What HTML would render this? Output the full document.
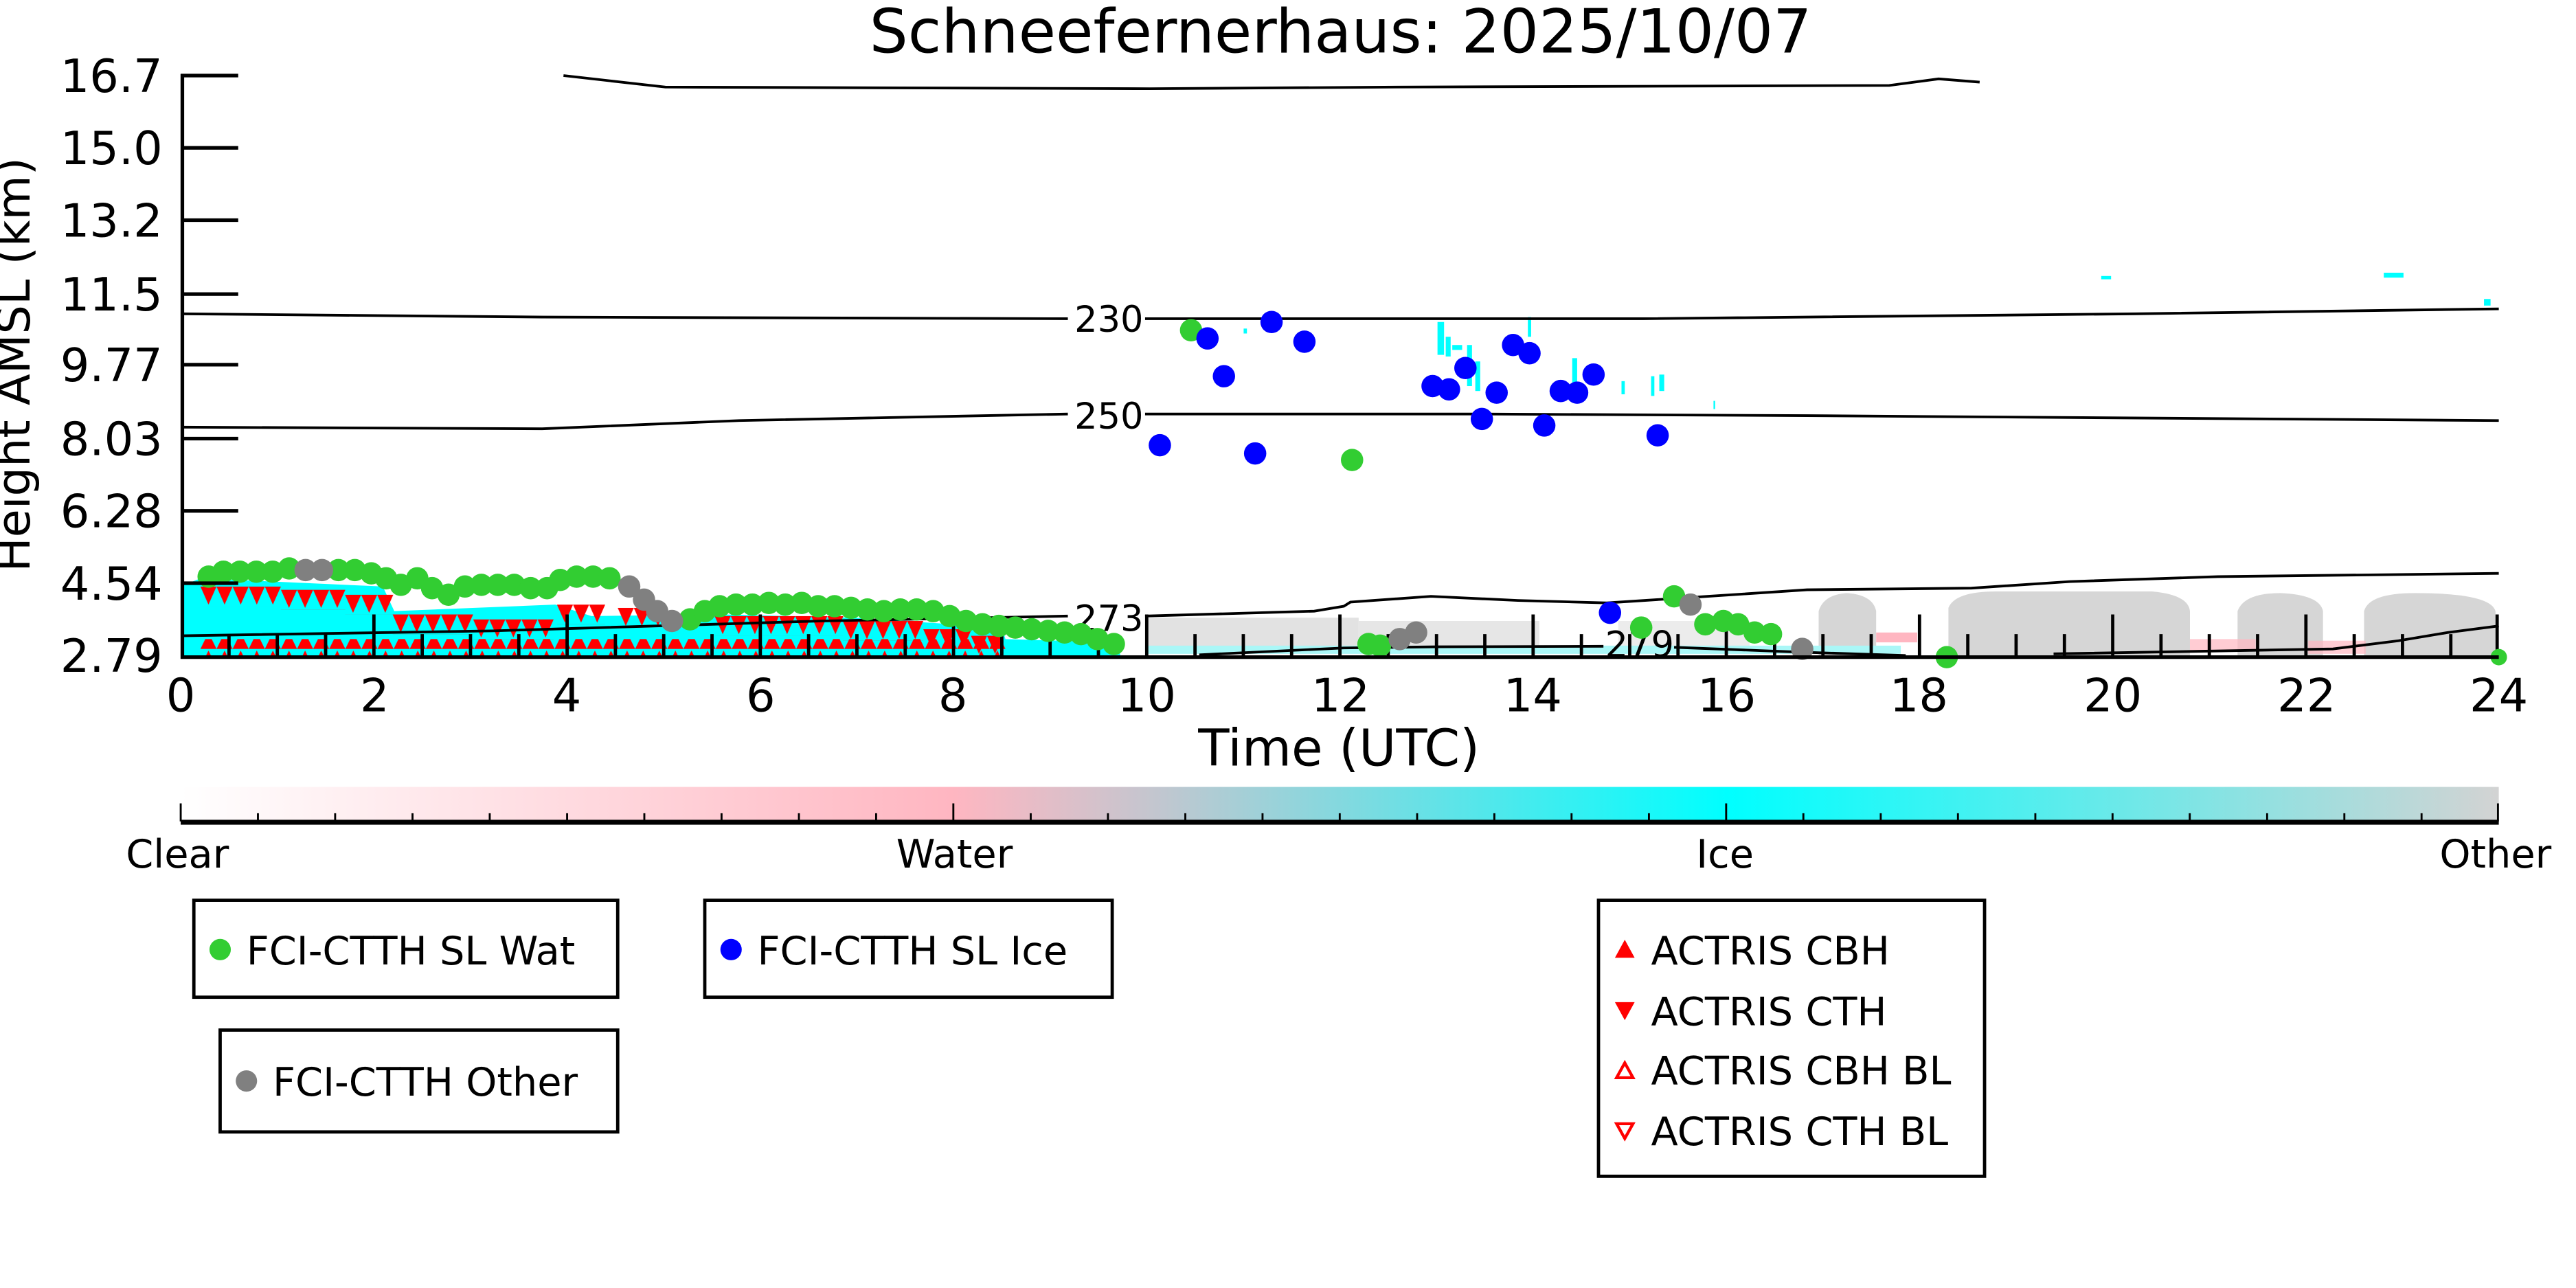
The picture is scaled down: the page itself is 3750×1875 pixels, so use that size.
<!DOCTYPE html>
<html><head><meta charset="utf-8"><style>
html,body{margin:0;padding:0;background:#fff;}
svg{display:block;}
text{font-family:"DejaVu Sans","Liberation Sans",sans-serif;fill:#000;}
</style></head><body>
<svg width="3750" height="1875" viewBox="0 0 1568 784" preserveAspectRatio="none" xmlns="http://www.w3.org/2000/svg">
<defs>
<pattern id="up" patternUnits="userSpaceOnUse" x="122" y="0" width="9.8" height="11">
<polygon points="0,10 4.9,0 9.8,10" fill="#ff0000"/>
</pattern>
<pattern id="dn" patternUnits="userSpaceOnUse" x="0" y="0" width="9.8" height="12">
<polygon points="0,0 9.8,0 4.9,11" fill="#ff0000"/>
</pattern>
<linearGradient id="cb" x1="0" x2="1" y1="0" y2="0">
<stop offset="0" stop-color="#ffffff"/>
<stop offset="0.333" stop-color="#ffb6c1"/>
<stop offset="0.42" stop-color="#c3c6cf"/>
<stop offset="0.667" stop-color="#00ffff"/>
<stop offset="1" stop-color="#d3d3d3"/>
</linearGradient>
</defs>

<text x="816" y="32" font-size="37" text-anchor="middle">Schneefernerhaus: 2025/10/07</text>

<g fill="#d6d6d6">
<rect x="697" y="376" width="130" height="20" fill="#e2e2e2"/>
<rect x="827" y="378" width="110" height="18" fill="#e6e6e6"/>
<rect x="985" y="378" width="80" height="18" fill="#ececec"/>
<path d="M1107,399 L1107,372 Q1110,362 1124,361 Q1140,362 1142,372 L1142,399Z"/>
<path d="M1186,399 L1186,370 Q1190,360 1215,360 L1310,360 Q1332,362 1333,372 L1333,399Z"/>
<path d="M1362,399 L1362,372 Q1366,361 1388,361 Q1412,362 1414,372 L1414,399Z"/>
<path d="M1439,399 L1439,372 Q1442,361 1470,361 Q1516,361 1519,372 L1519,399Z"/>
</g>
<g fill="#ffb6c1">
<rect x="1142" y="385" width="25" height="6"/>
<rect x="1333" y="389" width="40" height="7" opacity="0.7"/>
<rect x="1405" y="390" width="35" height="8" opacity="0.7"/>
</g>
<rect x="697" y="393" width="460" height="5" fill="#aaf7f7"/>
<g fill="#00ffff">
<rect x="1279" y="168" width="6" height="2"/>
<rect x="1451" y="166" width="12" height="3"/>
<rect x="1512" y="182" width="4" height="4"/>
<rect x="875" y="196" width="4" height="20"/>
<rect x="880" y="205" width="3" height="12"/>
<rect x="884" y="210" width="6" height="3"/>
<rect x="893" y="210" width="3" height="25"/>
<rect x="898" y="220" width="3" height="18"/>
<rect x="930" y="193" width="2" height="12"/>
<rect x="957" y="218" width="3" height="18"/>
<rect x="1005" y="229" width="2" height="12"/>
<rect x="1010" y="228" width="3" height="10"/>
<rect x="987" y="232" width="2" height="8"/>
<rect x="757" y="200" width="2" height="3"/>
<rect x="1043" y="244" width="1" height="5"/>
</g>

<polygon fill="#00ffff" points="110,357 122,352 233,357 240,372 338,368 360,375 440,374 520,376 610,382 612,389 680,391 682,399 110,399"/>

<rect x="122" y="389" width="490" height="10" fill="url(#up)"/>
<g transform="translate(122,357)"><rect x="0" y="0" width="49" height="12" fill="url(#dn)"/></g>
<g transform="translate(171,359)"><rect x="0" y="0" width="39.2" height="12" fill="url(#dn)"/></g>
<g transform="translate(210,362)"><rect x="0" y="0" width="29.4" height="12" fill="url(#dn)"/></g>
<g transform="translate(239,374)"><rect x="0" y="0" width="49" height="12" fill="url(#dn)"/></g>
<g transform="translate(288,377)"><rect x="0" y="0" width="49" height="12" fill="url(#dn)"/></g>
<g transform="translate(339,368)"><rect x="0" y="0" width="29.4" height="12" fill="url(#dn)"/></g>
<g transform="translate(376,370)"><rect x="0" y="0" width="29.4" height="12" fill="url(#dn)"/></g>
<g transform="translate(435,375)"><rect x="0" y="0" width="78.4" height="12" fill="url(#dn)"/></g>
<g transform="translate(513,378)"><rect x="0" y="0" width="49" height="12" fill="url(#dn)"/></g>
<g transform="translate(562,383)"><rect x="0" y="0" width="29.4" height="12" fill="url(#dn)"/></g>
<g transform="translate(591,387)"><rect x="0" y="0" width="19.6" height="12" fill="url(#dn)"/></g>

<g fill="none" stroke="#000" stroke-width="1.6">
<path d="M343,46 L405,53 L700,54 L850,53 L1150,52 L1180,48 L1205,50"/>
<path d="M110,191 L330,193 L650,194"/>
<path d="M697,194 L1000,194 L1300,191 L1521,188"/>
<path d="M110,260 L330,261 L450,256 L650,252"/>
<path d="M697,252 L900,252 L1100,253 L1521,256"/>
<path d="M110,387 L300,384 L500,378 L650,375"/>
<path d="M697,375 L800,372 L818,369 L822,366.5 L871,363 L924,365.5 L978,367 L1024,364 L1100,359 L1200,358 L1260,354 L1350,351 L1521,349"/>
<path d="M730,398.6 L818,394.4 L875,393.7 L976,393.4"/>
<path d="M1019,394 L1097,397 L1160,399"/>
<path d="M1250,398 L1420,395 L1460,390 L1490,385 L1521,381"/>
</g>
<text x="675" y="202" font-size="22" text-anchor="middle">230</text>
<text x="675" y="261" font-size="22" text-anchor="middle">250</text>
<text x="675" y="384" font-size="22" text-anchor="middle">273</text>
<text x="998" y="400" font-size="22" text-anchor="middle">279</text>

<g stroke="#000" stroke-width="2">
<path d="M139.4,399V386 M168.8,399V386 M198.2,399V386 M257,399V386 M286.4,399V386 M315.8,399V386 M374.6,399V386 M404,399V386 M433.4,399V386 M492.2,399V386 M521.6,399V386 M551,399V386 M609.8,399V386 M639.2,399V386 M668.6,399V386 M727.4,399V386 M756.8,399V386 M786.2,399V386 M845,399V386 M874.4,399V386 M903.8,399V386 M962.6,399V386 M992,399V386 M1021.4,399V386 M1080.2,399V386 M1109.6,399V386 M1139,399V386 M1197.8,399V386 M1227.2,399V386 M1256.6,399V386 M1315.4,399V386 M1344.8,399V386 M1374.2,399V386 M1433,399V386 M1462.4,399V386 M1491.8,399V386"/>
<path d="M227.6,399V374 M345.2,399V374 M462.8,399V374 M580.4,399V374 M698,399V374 M815.6,399V374 M933.2,399V374 M1050.8,399V374 M1168.4,399V374 M1286,399V374 M1403.6,399V374 M1520,399V374"/>
</g>

<g fill="#32cd32">
<circle cx="127" cy="351" r="6.8"/><circle cx="136" cy="348" r="6.8"/><circle cx="146" cy="348" r="6.8"/><circle cx="156" cy="348" r="6.8"/><circle cx="166" cy="348" r="6.8"/><circle cx="176" cy="346" r="6.8"/>
<circle cx="206" cy="347" r="6.8"/><circle cx="216" cy="347" r="6.8"/><circle cx="226" cy="349" r="6.8"/><circle cx="235" cy="352" r="6.8"/><circle cx="244" cy="356" r="6.8"/><circle cx="254" cy="352" r="6.8"/><circle cx="263" cy="358" r="6.8"/><circle cx="273" cy="362" r="6.8"/>
<circle cx="283" cy="357" r="6.8"/><circle cx="293" cy="356" r="6.8"/><circle cx="303" cy="356" r="6.8"/><circle cx="313" cy="356" r="6.8"/><circle cx="323" cy="358" r="6.8"/><circle cx="333" cy="358" r="6.8"/>
<circle cx="341" cy="353" r="6.8"/><circle cx="351" cy="351" r="6.8"/><circle cx="361" cy="351" r="6.8"/><circle cx="371" cy="352" r="6.8"/>
<circle cx="420" cy="377" r="6.8"/><circle cx="429" cy="372" r="6.8"/><circle cx="438" cy="369" r="6.8"/><circle cx="448" cy="368" r="6.8"/><circle cx="458" cy="368" r="6.8"/><circle cx="468" cy="367" r="6.8"/><circle cx="478" cy="368" r="6.8"/><circle cx="488" cy="367" r="6.8"/><circle cx="498" cy="369" r="6.8"/><circle cx="508" cy="369" r="6.8"/><circle cx="518" cy="370" r="6.8"/><circle cx="528" cy="371" r="6.8"/><circle cx="538" cy="372" r="6.8"/><circle cx="548" cy="371" r="6.8"/><circle cx="558" cy="371" r="6.8"/><circle cx="568" cy="372" r="6.8"/>
<circle cx="578" cy="375" r="6.8"/><circle cx="588" cy="378" r="6.8"/><circle cx="598" cy="380" r="6.8"/><circle cx="608" cy="381" r="6.8"/><circle cx="618" cy="382" r="6.8"/><circle cx="628" cy="383" r="6.8"/><circle cx="638" cy="384" r="6.8"/><circle cx="648" cy="385" r="6.8"/><circle cx="658" cy="386" r="6.8"/><circle cx="668" cy="389" r="6.8"/><circle cx="678" cy="392" r="6.8"/>
<circle cx="725" cy="201" r="6.8"/><circle cx="823" cy="280" r="6.8"/>
<circle cx="833" cy="392" r="6.8"/><circle cx="840" cy="393" r="6.8"/>
<circle cx="999" cy="382" r="6.8"/><circle cx="1019" cy="363" r="6.8"/><circle cx="1038" cy="380" r="6.8"/><circle cx="1049" cy="378" r="6.8"/><circle cx="1058" cy="380" r="6.8"/><circle cx="1068" cy="385" r="6.8"/><circle cx="1078" cy="386" r="6.8"/><circle cx="1185" cy="400" r="6.8"/><circle cx="1521" cy="400" r="5"/>
</g>
<g fill="#808080">
<circle cx="186" cy="347" r="6.8"/><circle cx="196" cy="347" r="6.8"/>
<circle cx="383" cy="357" r="6.8"/><circle cx="392" cy="365" r="6.8"/><circle cx="400" cy="372" r="6.8"/><circle cx="409" cy="378" r="6.8"/>
<circle cx="852" cy="389" r="6.8"/><circle cx="862" cy="385" r="6.8"/><circle cx="1029" cy="368" r="6.8"/><circle cx="1097" cy="395" r="6.8"/>
</g>
<g fill="#0000ff">
<circle cx="706" cy="271" r="6.8"/><circle cx="735" cy="206" r="6.8"/><circle cx="774" cy="196" r="6.8"/><circle cx="794" cy="208" r="6.8"/><circle cx="745" cy="229" r="6.8"/><circle cx="764" cy="276" r="6.8"/>
<circle cx="872" cy="235" r="6.8"/><circle cx="882" cy="237" r="6.8"/><circle cx="892" cy="224" r="6.8"/><circle cx="902" cy="255" r="6.8"/><circle cx="911" cy="239" r="6.8"/><circle cx="921" cy="210" r="6.8"/><circle cx="931" cy="215" r="6.8"/><circle cx="940" cy="259" r="6.8"/><circle cx="950" cy="238" r="6.8"/><circle cx="960" cy="239" r="6.8"/><circle cx="970" cy="228" r="6.8"/><circle cx="1009" cy="265" r="6.8"/><circle cx="980" cy="373" r="6.8"/>
</g>

<g stroke="#000" stroke-width="2.2" fill="none">
<path d="M111,45V400H1521"/>
<path d="M110,46H145 M110,90H145 M110,134H145 M110,179H145 M110,222H145 M110,267H145 M110,311H145 M110,355H145"/>
</g>
<g font-size="28" text-anchor="end">
<text x="99" y="56">16.7</text><text x="99" y="100">15.0</text><text x="99" y="144">13.2</text><text x="99" y="189">11.5</text><text x="99" y="232">9.77</text><text x="99" y="277">8.03</text><text x="99" y="321">6.28</text><text x="99" y="365">4.54</text><text x="99" y="409">2.79</text>
</g>
<g font-size="28" text-anchor="middle">
<text x="110" y="433">0</text><text x="228" y="433">2</text><text x="345" y="433">4</text><text x="463" y="433">6</text><text x="580" y="433">8</text><text x="698" y="433">10</text><text x="816" y="433">12</text><text x="933" y="433">14</text><text x="1051" y="433">16</text><text x="1168" y="433">18</text><text x="1286" y="433">20</text><text x="1404" y="433">22</text><text x="1521" y="433">24</text>
</g>
<text x="815" y="466" font-size="31" text-anchor="middle">Time (UTC)</text>
<text transform="translate(18,222) rotate(-90)" font-size="28" text-anchor="middle">Height AMSL (km)</text>

<rect x="110" y="479" width="1411" height="21" fill="url(#cb)"/>
<rect x="110" y="499" width="1411" height="3" fill="#000"/>
<g stroke="#000" stroke-width="1.2">
<path d="M110,500V489 M580.3,500V489 M1050.7,500V489 M1520.5,500V489"/>
<path d="M157,500V495 M204,500V495 M251.1,500V495 M298.1,500V495 M345.2,500V495 M392.2,500V495 M439.2,500V495 M486.3,500V495 M533.3,500V495 M627.4,500V495 M674.4,500V495 M721.5,500V495 M768.5,500V495 M815.5,500V495 M862.6,500V495 M909.6,500V495 M956.6,500V495 M1003.7,500V495 M1097.7,500V495 M1144.8,500V495 M1191.8,500V495 M1238.9,500V495 M1285.9,500V495 M1332.9,500V495 M1380,500V495 M1427,500V495 M1474,500V495"/>
</g>
<g font-size="24" text-anchor="middle">
<text x="108" y="528">Clear</text><text x="581" y="528">Water</text><text x="1050" y="528">Ice</text><text x="1519" y="528">Other</text>
</g>

<g fill="#fff" stroke="#000" stroke-width="2">
<rect x="118" y="548" width="258" height="59"/>
<rect x="134" y="627" width="242" height="62"/>
<rect x="429" y="548" width="248" height="59"/>
<rect x="973" y="548" width="235" height="168"/>
</g>
<g font-size="24">
<circle cx="134" cy="578" r="6.5" fill="#32cd32"/><text x="150" y="587">FCI-CTTH SL Wat</text>
<circle cx="150" cy="658" r="6.5" fill="#808080"/><text x="166" y="667">FCI-CTTH Other</text>
<circle cx="445" cy="578" r="6.5" fill="#0000ff"/><text x="461" y="587">FCI-CTTH SL Ice</text>
<polygon points="983,583 995,583 989,572" fill="#ff0000"/><text x="1005" y="587">ACTRIS CBH</text>
<polygon points="983,610 995,610 989,621" fill="#ff0000"/><text x="1005" y="624">ACTRIS CTH</text>
<polygon points="984,656 994,656 989,647" fill="none" stroke="#ff0000" stroke-width="1.8"/><text x="1005" y="660">ACTRIS CBH BL</text>
<polygon points="984,684 994,684 989,693" fill="none" stroke="#ff0000" stroke-width="1.8"/><text x="1005" y="697">ACTRIS CTH BL</text>
</g>
</svg>
</body></html>
